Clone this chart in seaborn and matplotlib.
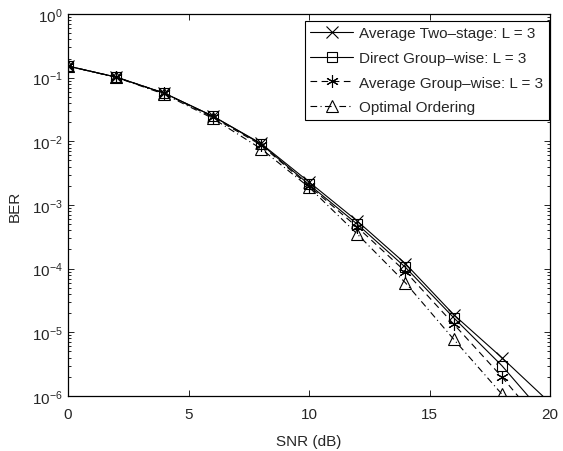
import numpy as np
import pandas as pd
import seaborn as sns
import matplotlib
matplotlib.use("Agg")
import matplotlib.pyplot as plt
from matplotlib.ticker import LogLocator, NullFormatter

# values
snr = [0, 2, 4, 6, 8, 10, 12, 14, 16, 18, 20]
ber_two_stage = [0.152, 0.102, 0.057, 0.025, 0.0093, 0.0023, 5.6e-4, 1.2e-4, 1.9e-5, 4.0e-6, 7.8e-7]
ber_direct_group = [0.152, 0.102, 0.057, 0.025, 0.0091, 0.0021, 5.0e-4, 1.05e-4, 1.7e-5, 3.0e-6, 4.0e-7]
ber_avg_group = [0.152, 0.102, 0.057, 0.024, 0.0088, 0.0020, 4.5e-4, 9.0e-5, 1.35e-5, 2.0e-6, 2.5e-7]
ber_optimal = [0.152, 0.101, 0.055, 0.023, 0.0077, 0.0019, 3.5e-4, 6.0e-5, 7.8e-6, 1.07e-6, 1.5e-7]

labels = ["Average Two\u2013stage: L = 3",
          "Direct Group\u2013wise: L = 3",
          "Average Group\u2013wise: L = 3",
          "Optimal Ordering"]
series = [ber_two_stage, ber_direct_group, ber_avg_group, ber_optimal]
yticks = [1e-6, 1e-5, 1e-4, 1e-3, 1e-2, 1e-1, 1e0]
ytick_labels = ["$10^{-6}$", "$10^{-5}$", "$10^{-4}$", "$10^{-3}$",
                "$10^{-2}$", "$10^{-1}$", "$10^{0}$"]

sns.set_style("ticks")
plt.rcParams['font.family'] = ['Liberation Sans', 'DejaVu Sans']
plt.rcParams['mathtext.fontset'] = 'custom'
plt.rcParams['mathtext.rm'] = 'Liberation Sans'
plt.rcParams['mathtext.it'] = 'Liberation Sans:italic'
plt.rcParams['mathtext.bf'] = 'Liberation Sans:bold'
plt.rcParams['font.size'] = 11
plt.rcParams['xtick.direction'] = 'in'
plt.rcParams['ytick.direction'] = 'in'
plt.rcParams['xtick.top'] = True
plt.rcParams['ytick.right'] = True

fig = plt.figure(figsize=(5.63, 4.52), dpi=100)
ax = fig.add_axes([0.1208, 0.1217, 0.8562, 0.8451])

styles = [
    dict(linestyle='-', marker='x', markersize=8),
    dict(linestyle='-', marker='s', markersize=7, markerfacecolor='none'),
    dict(linestyle=(0, (6, 4)), marker=(6, 2, 0), markersize=9),
    dict(linestyle=(0, (6, 3, 1, 3)), marker='^', markersize=9, markerfacecolor='none'),
]

for lab, vals, st in zip(labels, series, styles):
    df = pd.DataFrame({"SNR": snr, "BER": vals})
    sns.lineplot(data=df, x="SNR", y="BER", ax=ax, color='black',
                 linewidth=0.8, markeredgewidth=0.8, markeredgecolor='black',
                 label=lab, **st)

ax.set_yscale('log')
ax.set_xlim(0, 20)
ax.set_ylim(1e-6, 1)
ax.set_xticks([0, 5, 10, 15, 20])
ax.set_yticks(yticks)
ax.set_yticklabels(ytick_labels)
ax.yaxis.set_minor_locator(LogLocator(base=10, subs=np.arange(2, 10) * 0.1, numticks=20))
ax.yaxis.set_minor_formatter(NullFormatter())
ax.set_xlabel("SNR (dB)", labelpad=9)
ax.set_ylabel("BER", labelpad=7)
ax.tick_params(which='both', color='black', width=0.6)
ax.tick_params(which='major', length=4)
ax.tick_params(which='minor', length=2)
ax.tick_params(axis='x', pad=8)
ax.tick_params(axis='y', pad=4)
for sp in ax.spines.values():
    sp.set_visible(True)
    sp.set_linewidth(0.9)
    sp.set_color('black')

leg = ax.legend(loc='upper right', bbox_to_anchor=(0.997, 0.982),
                frameon=True, fancybox=False, framealpha=1,
                edgecolor='black', handlelength=2.8, labelspacing=0.7,
                borderaxespad=0.0, handletextpad=0.4, borderpad=0.35)
leg.get_frame().set_linewidth(0.8)

fig.savefig("out.png", dpi=100)
